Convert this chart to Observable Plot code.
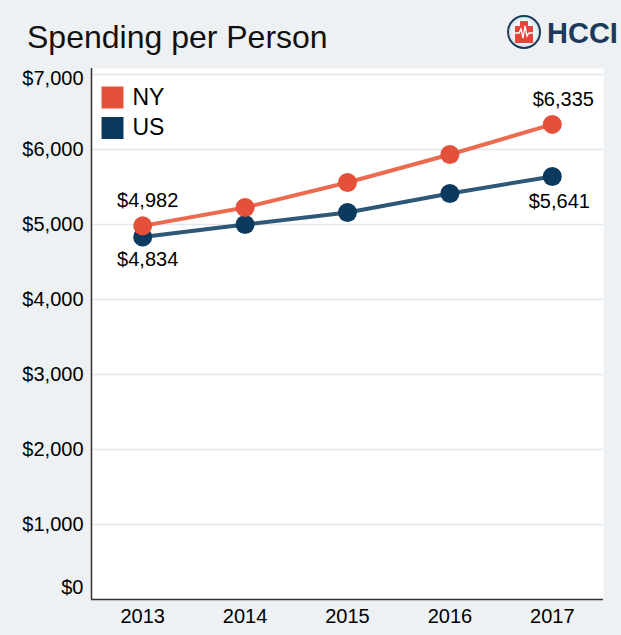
<!DOCTYPE html>
<html>
<head>
<meta charset="utf-8">
<script src="https://cdn.jsdelivr.net/npm/d3@7"></script>
<script src="https://cdn.jsdelivr.net/npm/@observablehq/plot@0.6"></script>
<style>
  html, body { margin: 0; padding: 0; background: #edf1f4; }
  #wrap { position: relative; width: 621px; height: 635px; background: #edf1f4; font-family: "Liberation Sans", Arial, sans-serif; overflow: hidden; }
  #title { position: absolute; left: 27px; top: 21px; font-size: 32px; line-height: 1; color: #111; white-space: nowrap; }
  #logo { position: absolute; left: 500px; top: 8px; }
  #chart { position: absolute; left: 0; top: 60px; }
</style>
</head>
<body>
<div id="wrap">
  <div id="title">Spending per Person</div>
  <svg id="logo" width="121" height="48" viewBox="0 0 121 48">
    <circle cx="24" cy="24" r="16" fill="#e4e8ee" stroke="#1d3a5c" stroke-width="2"/>
    <circle cx="24" cy="24" r="12.5" fill="#f4f6f8" />
    <path d="M15 18 H20 V13 H28 V18 H33 V35 H15 Z" fill="#e5453a"/>
    <polyline points="13,25 19,25 21,21 23,30 25,18 27,28 29,25 35,25" fill="none" stroke="#fff" stroke-width="1.3"/>
    <text x="47" y="35" font-family="Liberation Sans, Arial, sans-serif" font-weight="bold" font-size="29" fill="#1d3a5c">HCCI</text>
  </svg>
  <div id="chart"></div>
</div>
<script>
const years = [2013, 2014, 2015, 2016, 2017];
const nyValues = [4982, 5227, 5560, 5933, 6335];
const usValues = [4834, 5000, 5160, 5413, 5641];
const seriesNames = ["NY", "US"];
const yTicks = [1000, 2000, 3000, 4000, 5000, 6000, 7000];

const colors = { NY: "#e5503a", US: "#0b3a5e" };
const lineColors = { NY: "#ec6a50", US: "#2d5878" };

const rows = [];
years.forEach((yr, i) => {
  rows.push({ year: yr, value: nyValues[i], series: "NY" });
  rows.push({ year: yr, value: usValues[i], series: "US" });
});
const ny = rows.filter(d => d.series === "NY");
const us = rows.filter(d => d.series === "US");
const fmt = d => "$" + d3.format(",")(d);
const first = arr => [arr[0]];
const last = arr => [arr[arr.length - 1]];
const fontFamily = "Liberation Sans, Arial, sans-serif";

const chart = Plot.plot({
  width: 621,
  height: 575,
  marginTop: 8,
  marginBottom: 36,
  marginLeft: 91,
  marginRight: 18,
  style: { fontFamily, color: "black", background: "transparent", overflow: "visible" },
  x: { domain: [2012.5, 2017.5], axis: null },
  y: { domain: [0, 7000], insetTop: 6, axis: null },
  marks: [
    Plot.frame({ fill: "white", stroke: null }),
    Plot.gridY(yTicks, { stroke: "#e3e7ec", strokeOpacity: 1, strokeWidth: 1.5 }),
    Plot.ruleY([0], { stroke: "#333", strokeWidth: 1.5 }),
    Plot.ruleX([2012.5], { stroke: "#333", strokeWidth: 1.5 }),
    Plot.axisY(yTicks.filter(t => t !== 7000), { label: null, tickSize: 0, tickPadding: 8, fontSize: 20, tickFormat: fmt }),
    Plot.axisY([7000], { label: null, tickSize: 0, tickPadding: 8, fontSize: 20, tickFormat: fmt, dy: 4 }),
    Plot.axisY([0], { label: null, tickSize: 0, tickPadding: 8, fontSize: 20, tickFormat: fmt, dy: -12 }),
    Plot.axisX(years, { label: null, tickSize: 0, tickPadding: 9, fontSize: 20, tickFormat: d => String(d) }),
    Plot.line(us, { x: "year", y: "value", stroke: lineColors.US, strokeWidth: 4 }),
    Plot.line(ny, { x: "year", y: "value", stroke: lineColors.NY, strokeWidth: 4 }),
    Plot.dot(us, { x: "year", y: "value", r: 9.5, fill: colors.US }),
    Plot.dot(ny, { x: "year", y: "value", r: 9.5, fill: colors.NY }),
    Plot.text(first(ny), { x: "year", y: "value", text: d => fmt(d.value), dx: 5, dy: -25, fontSize: 20, fill: "black" }),
    Plot.text(last(ny), { x: "year", y: "value", text: d => fmt(d.value), dx: 11, dy: -25, fontSize: 20, fill: "black" }),
    Plot.text(first(us), { x: "year", y: "value", text: d => fmt(d.value), dx: 5, dy: 23, fontSize: 20, fill: "black" }),
    Plot.text(last(us), { x: "year", y: "value", text: d => fmt(d.value), dx: 7, dy: 25, fontSize: 20, fill: "black" }),
    // legend
    Plot.dot([seriesNames[0]], { frameAnchor: "top-left", dx: 21, dy: 29, symbol: "square", r: 12.4, fill: colors.NY }),
    Plot.dot([seriesNames[1]], { frameAnchor: "top-left", dx: 21, dy: 59.5, symbol: "square", r: 12.4, fill: colors.US }),
    Plot.text([seriesNames[0]], { frameAnchor: "top-left", dx: 41, dy: 29, text: d => d, textAnchor: "start", lineAnchor: "middle", fontSize: 23, fill: "black" }),
    Plot.text([seriesNames[1]], { frameAnchor: "top-left", dx: 41, dy: 59.5, text: d => d, textAnchor: "start", lineAnchor: "middle", fontSize: 23, fill: "black" })
  ]
});
document.getElementById("chart").appendChild(chart);
</script>
</body>
</html>
